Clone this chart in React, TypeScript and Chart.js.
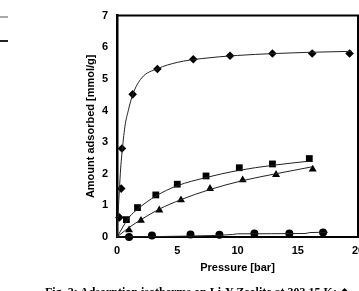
import React, { useEffect, useRef } from "react";
import { Chart, registerables } from "chart.js";

Chart.register(...registerables);

// Measured points (Pressure [bar], Amount adsorbed [mmol/g])
const diamondP = [0.2, 0.35, 0.41, 1.3, 3.35, 6.33, 9.38, 12.9, 16.2, 19.3];
const diamondQ = [0.62, 1.53, 2.8, 4.51, 5.31, 5.62, 5.73, 5.8, 5.8, 5.8];
const squareP = [0.78, 1.7, 3.22, 5.0, 7.39, 10.15, 12.9, 15.96];
const squareQ = [0.55, 0.93, 1.33, 1.67, 1.93, 2.19, 2.31, 2.48];
const triangleP = [1.0, 1.99, 3.51, 5.31, 7.72, 10.43, 13.2, 16.24];
const triangleQ = [0.22, 0.52, 0.85, 1.17, 1.53, 1.8, 1.97, 2.14];
const circleP = [1.0, 2.9, 6.1, 8.5, 11.4, 14.3, 17.1];
const circleQ = [0.0, 0.05, 0.08, 0.07, 0.11, 0.11, 0.14];

// Fitted curves
const diamondFitP = [0, 0.1, 0.2, 0.3, 0.4, 0.66, 0.94, 1.3, 2.05, 3.35, 5, 7, 10, 13, 16, 19.5];
const diamondFitQ = [0, 0.8, 1.5, 2.15, 2.6, 3.5, 4.0, 4.5, 5.03, 5.32, 5.52, 5.64, 5.74, 5.8, 5.84, 5.87];
const squareFitP = [0, 1, 1.77, 3.24, 5, 7.4, 10, 13, 16];
const squareFitQ = [0, 0.62, 0.9, 1.3, 1.62, 1.88, 2.1, 2.27, 2.4];
const triangleFitP = [0, 1, 2, 3.5, 5.3, 7.7, 10.4, 13.2, 16.2];
const triangleFitQ = [0, 0.3, 0.55, 0.88, 1.18, 1.5, 1.78, 2.0, 2.22];
const circleFitP = [0, 6, 9.6, 10, 15.6, 16, 17.5];
const circleFitQ = [0, 0.03, 0.08, 0.1, 0.11, 0.14, 0.15];

const xTicks = [0, 5, 10, 15, 20];
const yTicks = [0, 1, 2, 3, 4, 5, 6, 7];

const xTitle = "Pressure [bar]";
const yTitle = "Amount adsorbed [mmol/g]";
const caption = "Fig. 2: Adsorption isotherms on Li-Y Zeolite at 303.15 K: \u25C6";

const pts = (xs: number[], ys: number[]) => xs.map((x, i) => ({ x, y: ys[i] }));

const framePlugin = {
  id: "frame",
  afterDraw(chart: any) {
    const { ctx, chartArea } = chart;
    ctx.save();
    ctx.strokeStyle = "#000";
    ctx.lineWidth = 2;
    ctx.beginPath();
    ctx.moveTo(chartArea.left, chartArea.top);
    ctx.lineTo(chartArea.right, chartArea.top);
    ctx.lineTo(chartArea.right, chartArea.bottom);
    ctx.stroke();
    ctx.restore();
  },
};

export default function App() {
  const ref = useRef<HTMLCanvasElement | null>(null);
  useEffect(() => {
    if (!ref.current) return;
    const font = { family: "'Liberation Sans', Arial, sans-serif", size: 11, weight: "bold" as const };
    const lineDs = (xs: number[], ys: number[]) => ({
      type: "line" as const,
      data: pts(xs, ys),
      borderColor: "#222",
      borderWidth: 1,
      pointRadius: 0,
      cubicInterpolationMode: "monotone" as const,
      fill: false,
      clip: false as any,
    });
    const markDs = (xs: number[], ys: number[], style: string, r: number) => ({
      type: "scatter" as const,
      data: pts(xs, ys),
      pointStyle: style,
      pointRadius: r,
      backgroundColor: "#000",
      borderColor: "#000",
      borderWidth: 0,
      showLine: false,
      clip: false as any,
    });
    const chart = new Chart(ref.current, {
      type: "scatter",
      data: {
        datasets: [
          lineDs(diamondFitP, diamondFitQ),
          lineDs(squareFitP, squareFitQ),
          lineDs(triangleFitP, triangleFitQ),
          lineDs(circleFitP, circleFitQ),
          markDs(diamondP, diamondQ, "rectRot", 4.3),
          markDs(squareP, squareQ, "rect", 4.8),
          markDs(triangleP, triangleQ, "triangle", 4.6),
          markDs(circleP, circleQ, "circle", 4),
        ] as any,
      },
      options: {
        animation: false,
        responsive: true,
        maintainAspectRatio: false,
        layout: { padding: { left: 80, top: 9, right: 42, bottom: 12 } },
        plugins: { legend: { display: false }, tooltip: { enabled: false } },
        scales: {
          x: {
            type: "linear",
            min: 0,
            max: 20,
            afterBuildTicks: (s: any) => { s.ticks = xTicks.map((v) => ({ value: v })); },
            afterFit: (s: any) => { s.height = 42; },
            grid: { display: false, drawTicks: false },
            border: { display: true, color: "#000", width: 2 },
            ticks: { color: "#000", font, padding: 7, maxRotation: 0 },
            title: { display: true, text: xTitle, color: "#000", font, padding: 4 },
          },
          y: {
            type: "linear",
            min: 0,
            max: 7,
            afterBuildTicks: (s: any) => { s.ticks = yTicks.map((v) => ({ value: v })); },
            afterFit: (s: any) => { s.width = 37; },
            grid: { display: false, drawTicks: false },
            border: { display: true, color: "#000", width: 2.5 },
            ticks: { color: "#000", font, padding: 9 },
            title: { display: true, text: yTitle, color: "#000", font, padding: 4 },
          },
        },
      },
      plugins: [framePlugin],
    });
    return () => chart.destroy();
  }, []);

  return (
    <div style={{ position: "fixed", left: 0, top: 0, width: 359, height: 291, overflow: "hidden", background: "#fff" }}>
      <div style={{ position: "absolute", left: 0, top: 16, width: 8, height: 2, background: "#aaa" }} />
      <div style={{ position: "absolute", left: 0, top: 40, width: 8, height: 2, background: "#222" }} />
      <div style={{ position: "absolute", left: 0, top: 0, width: 400, height: 291 }}>
        <canvas ref={ref} />
      </div>
      <div
        style={{
          position: "absolute",
          left: 45,
          top: 285,
          whiteSpace: "nowrap",
          fontFamily: "'Liberation Serif', 'Times New Roman', serif",
          fontWeight: "bold",
          fontSize: 12,
          color: "#000",
        }}
      >
        {caption}
      </div>
    </div>
  );
}
